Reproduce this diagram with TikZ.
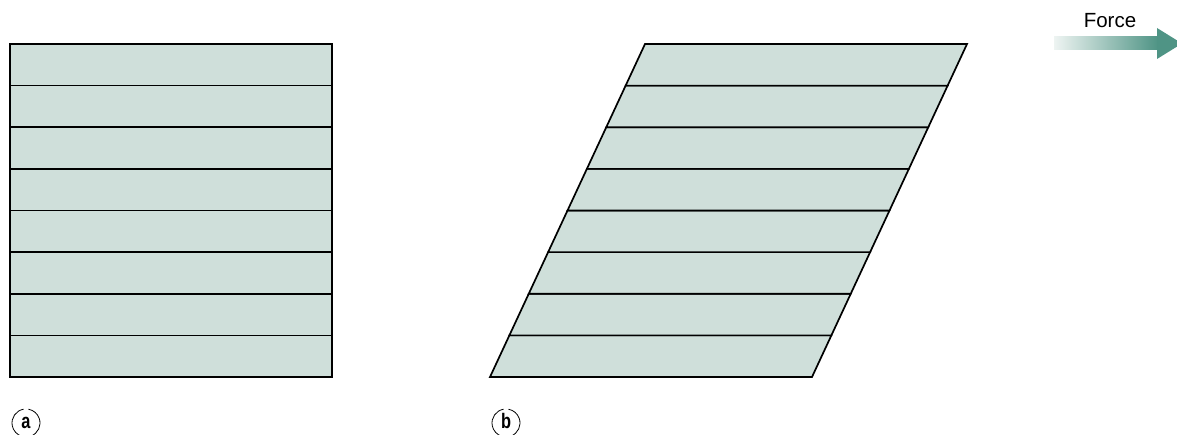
\documentclass[tikz,border=0pt]{standalone}
\usepackage{fontspec}
\setmainfont{Liberation Sans}
\usepackage{xcolor}
\usepackage{tikz}
\definecolor{layerfill}{HTML}{CFDFDA}
\definecolor{forceteal}{HTML}{4F9485}
\definecolor{forcelight}{HTML}{EEF4F2}
\tikzset{
  layer/.style={draw=black, fill=layerfill, line width=1.7pt, line join=miter},
  tag/.style={font=\fontsize{21}{21}\selectfont\bfseries, inner sep=0pt, anchor=base},
  tagring/.style={line width=0.8pt}
}
\newcommand{\layerstack}[3]{%
  \begin{scope}[shift={(#1,58)}, xslant=#2]
    \foreach \k in {0,...,7}
      \draw[layer] (0,\k*41.625) rectangle (322,\k*41.625+41.625);
  \end{scope}
  \coordinate (ring#3) at (#1+16,12);
  \node[tag] (lbl#3) at (#1+16,6) {\scalebox{0.78}[1]{#3}};
  \draw[tagring] ([shift={(100:14)}]ring#3) arc[start angle=100, end angle=255, radius=14];
  \draw[tagring] ([shift={(-70:14)}]ring#3) arc[start angle=-70, end angle=80, radius=14];}

\begin{document}
\begin{tikzpicture}[x=1pt, y=1pt]
\useasboundingbox (0,0) rectangle (1177,435);

\layerstack{10}{0}{a}
\layerstack{490}{0.4655}{b}

% force arrow
\node[anchor=base, font=\fontsize{20.5}{20.5}\selectfont, inner sep=0pt] (force) at (1110,407) {Force};
\shade[left color=forcelight, right color=forceteal] (1054,385) rectangle (1158,398);
\fill[forceteal] (1157,376) -- (1182,391.5) -- (1157,407) -- cycle;

\end{tikzpicture}
\end{document}
